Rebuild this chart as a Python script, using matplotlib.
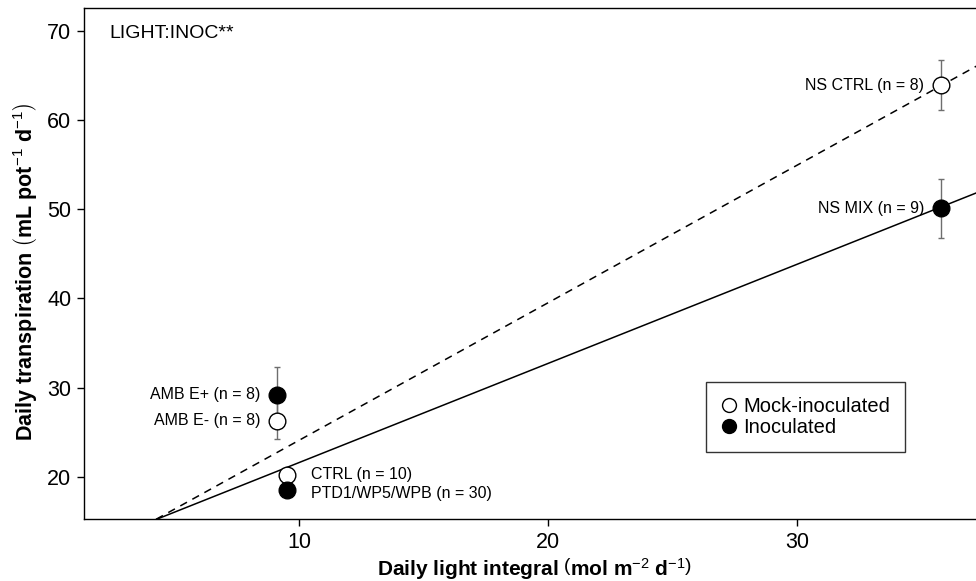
import matplotlib
matplotlib.use("Agg")
import matplotlib.pyplot as plt
from matplotlib.lines import Line2D
import numpy as np

plt.rcParams['font.family'] = ['Liberation Sans', 'DejaVu Sans']
plt.rcParams['mathtext.fontset'] = 'custom'
plt.rcParams['mathtext.rm'] = 'Liberation Sans'
plt.rcParams['mathtext.it'] = 'Liberation Sans'
plt.rcParams['mathtext.bf'] = 'Liberation Sans:bold'

# Treatment means: daily light integral vs daily transpiration
mock_labels = ["NS CTRL (n = 8)", "AMB E- (n = 8)", "CTRL (n = 10)"]
mock_dli = [35.8, 9.1, 9.5]
mock_trans = [63.9, 26.3, 20.2]
mock_err = [2.8, 2.1, 0.0]

inoc_labels = ["NS MIX (n = 9)", "AMB E+ (n = 8)", "PTD1/WP5/WPB (n = 30)"]
inoc_dli = [35.8, 9.1, 9.5]
inoc_trans = [50.1, 29.2, 18.5]
inoc_err = [3.3, 3.1, 0.0]

# Fitted lines (intercept, slope)
mock_fit = (8.7, 1.54)
inoc_fit = (10.5, 1.11)

x_ticks = [10, 20, 30]
y_ticks = [20, 30, 40, 50, 60, 70]

fig = plt.figure(figsize=(9.76, 5.81), dpi=100)
ax = fig.add_axes([84 / 976, 62 / 581, 911.7 / 976, 511.5 / 581])
ax.set_xlim(1.34, 38.0)
ax.set_ylim(15.26, 72.6)

xx = np.linspace(1.34, 38.0, 200)
ax.plot(xx, mock_fit[0] + mock_fit[1] * xx, color='black', lw=1.1,
        ls=(0, (5, 4)), zorder=2)
ax.plot(xx, inoc_fit[0] + inoc_fit[1] * xx, color='black', lw=1.1, zorder=2)

err_kw = dict(fmt='none', ecolor='#6e6e6e', elinewidth=1.0, capsize=2.5,
              capthick=1.0, zorder=3)
ax.errorbar(mock_dli, mock_trans, yerr=mock_err, **err_kw)
ax.errorbar(inoc_dli, inoc_trans, yerr=inoc_err, **err_kw)

ax.plot(mock_dli, mock_trans, 'o', ms=12, mfc='white', mec='black',
        mew=1.0, ls='none', zorder=4)
ax.plot(inoc_dli, inoc_trans, 'o', ms=12, mfc='black', mec='black',
        mew=1.0, ls='none', zorder=4)

lab_fs = 11.5
# Labels to the left of the high-light and ambient points
for lbl, x, y in [(mock_labels[0], mock_dli[0], mock_trans[0]),
                  (mock_labels[1], mock_dli[1], mock_trans[1]),
                  (inoc_labels[0], inoc_dli[0], inoc_trans[0]),
                  (inoc_labels[1], inoc_dli[1], inoc_trans[1])]:
    ax.annotate(lbl, (x, y), xytext=(-12, 0), textcoords='offset points',
                ha='right', va='center', fontsize=lab_fs)
# Labels to the right of the control points
for lbl, x, y, dy in [(mock_labels[2], mock_dli[2], mock_trans[2], 0),
                      (inoc_labels[2], inoc_dli[2], inoc_trans[2], -2.5)]:
    ax.annotate(lbl, (x, y), xytext=(17, dy), textcoords='offset points',
                ha='left', va='center', fontsize=lab_fs)

ax.text(0.028, 0.95, "LIGHT:INOC**", transform=ax.transAxes, fontsize=14,
        ha='left', va='center')

ax.set_xticks(x_ticks)
ax.set_yticks(y_ticks)
ax.tick_params(direction='out', length=5, width=1.0, labelsize=15.5, pad=4)
for s in ['left', 'bottom', 'top']:
    ax.spines[s].set_linewidth(1.0)
ax.spines['right'].set_visible(False)

fig.text(535 / 976, 1 - 576 / 581,
         r"Daily light integral $\left(\mathbf{mol\ m}^{-2}\ \mathbf{d}^{-1}\right)$",
         fontsize=15, fontweight='bold', ha='center', va='baseline')
fig.text(25 / 976, 1 - 272 / 581,
         r"Daily transpiration $\left(\mathbf{mL\ pot}^{-1}\ \mathbf{d}^{-1}\right)$",
         fontsize=15.5, fontweight='bold', ha='center', va='center',
         rotation=90)

handles = [Line2D([], [], marker='o', ls='none', ms=10, mfc='white',
                  mec='black', mew=1.0, label='Mock-inoculated'),
           Line2D([], [], marker='o', ls='none', ms=10, mfc='black',
                  mec='black', mew=1.0, label='Inoculated')]
leg = ax.legend(handles=handles, loc='upper left',
                bbox_to_anchor=((706 - 84) / 911.7, (519 - 382) / 511.5),
                fontsize=14.5, frameon=True, fancybox=False, handlelength=0.8,
                handletextpad=0.3, borderpad=0.75, labelspacing=0.1,
                borderaxespad=0)
leg.get_frame().set_edgecolor('black')
leg.get_frame().set_linewidth(1.0)

fig.savefig("out.png", dpi=100)
